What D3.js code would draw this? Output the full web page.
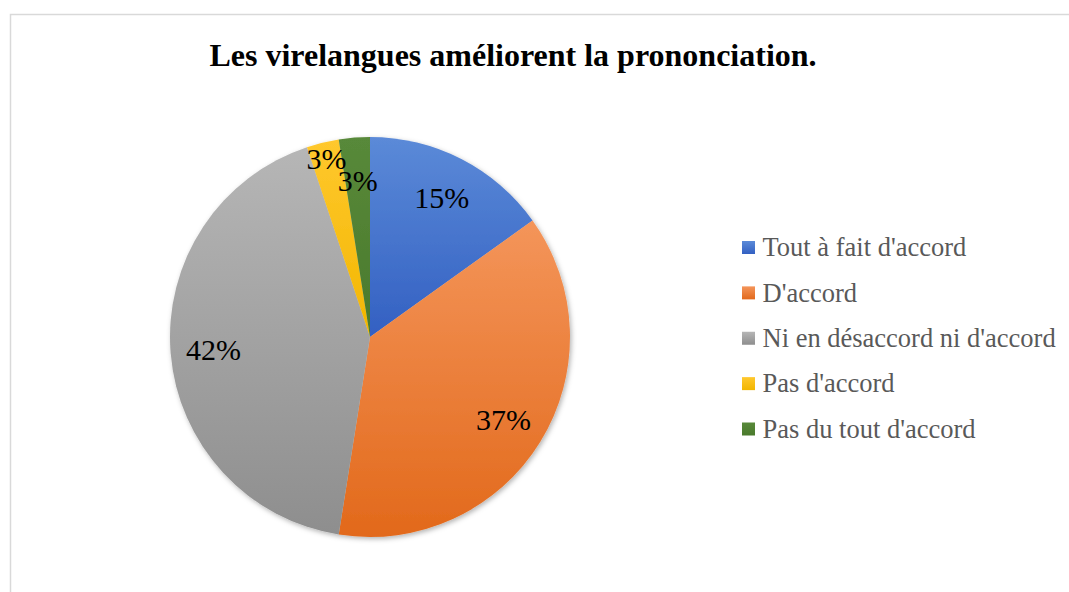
<!DOCTYPE html>
<html>
<head>
<meta charset="utf-8">
<script src="https://cdn.jsdelivr.net/npm/d3@7"></script>
<style>
  body { margin: 0; background: #fff; }
  svg { display: block; }
</style>
</head>
<body>
<svg id="chart" width="1069" height="592"></svg>
<script>
const categories = ["Tout à fait d'accord", "D'accord", "Ni en désaccord ni d'accord", "Pas d'accord", "Pas du tout d'accord"];
const values = [15.1, 37.4, 42.4, 2.6, 2.5];
const colorsTop = ["#5b8ad8", "#f4955a", "#b6b6b6", "#ffc82e", "#58893a"];
const colorsBottom = ["#3360c2", "#e2691b", "#8e8e8e", "#f2b600", "#4a7a2c"];
const title = "Les virelangues améliorent la prononciation.";

const svg = d3.select("#chart");
const W = 1069, H = 592;
const cx = 370, cy = 337, R = 200;
const serif = "'Liberation Serif', 'Times New Roman', serif";

// outer frame
svg.append("rect")
  .attr("x", 10.5).attr("y", 14.5)
  .attr("width", W + 20).attr("height", H + 20)
  .attr("fill", "none")
  .attr("stroke", "#d9d9d9")
  .attr("stroke-width", 1.5);

const defs = svg.append("defs");
defs.append("filter")
    .attr("id", "shadow")
    .attr("x", "-10%").attr("y", "-10%").attr("width", "120%").attr("height", "120%")
  .append("feDropShadow")
    .attr("dx", 1.5).attr("dy", 2).attr("stdDeviation", 2.5)
    .attr("flood-color", "#000").attr("flood-opacity", 0.3);

categories.forEach((c, i) => {
  const g = defs.append("linearGradient")
    .attr("id", "grad-" + i)
    .attr("x1", 0).attr("y1", 0).attr("x2", 0).attr("y2", 1);
  g.append("stop").attr("offset", "0%").attr("stop-color", colorsTop[i]);
  g.append("stop").attr("offset", "100%").attr("stop-color", colorsBottom[i]);
});

svg.append("text")
  .attr("x", 513).attr("y", 66)
  .attr("text-anchor", "middle")
  .attr("font-family", serif)
  .attr("font-weight", "bold")
  .attr("font-size", 32)
  .attr("fill", "#000")
  .text(title);

const pie = d3.pie().sort(null).value(d => d)(values);
const arc = d3.arc().innerRadius(0).outerRadius(R);

const g = svg.append("g").attr("transform", `translate(${cx},${cy})`);
g.append("g")
    .attr("filter", "url(#shadow)")
  .selectAll("path")
  .data(pie)
  .join("path")
    .attr("d", arc)
    .attr("fill", (d, i) => `url(#grad-${i})`);

// labels: small slices next to each other get pushed outward alternately
const labelR = (d, i) => {
  const small = d.endAngle - d.startAngle < 0.3;
  const prevSmall = i > 0 && pie[i - 1].endAngle - pie[i - 1].startAngle < 0.3;
  return small && !prevSmall && i < pie.length - 1 ? 184 : 157;
};
g.append("g")
  .selectAll("text")
  .data(pie)
  .join("text")
    .attr("transform", (d, i) => {
      const a = (d.startAngle + d.endAngle) / 2;
      const r = labelR(d, i);
      return `translate(${r * Math.sin(a)},${-r * Math.cos(a)})`;
    })
    .attr("text-anchor", "middle")
    .attr("dy", "0.35em")
    .attr("font-family", serif)
    .attr("font-size", 30)
    .attr("fill", "#000")
    .text(d => Math.round(d.value) + "%");

// legend
const legendY = d3.scalePoint().domain(categories).range([247.5, 429]);
const legend = svg.append("g")
  .selectAll("g")
  .data(categories)
  .join("g")
    .attr("transform", d => `translate(742,${legendY(d)})`);
legend.append("rect")
  .attr("x", 0).attr("y", -6.5)
  .attr("width", 13).attr("height", 13)
  .attr("fill", (d, i) => `url(#grad-${i})`);
legend.append("text")
  .attr("x", 20.5).attr("y", 0)
  .attr("dy", "0.33em")
  .attr("font-family", serif)
  .attr("font-size", 26.5)
  .attr("fill", "#595959")
  .text(d => d);
</script>
</body>
</html>
